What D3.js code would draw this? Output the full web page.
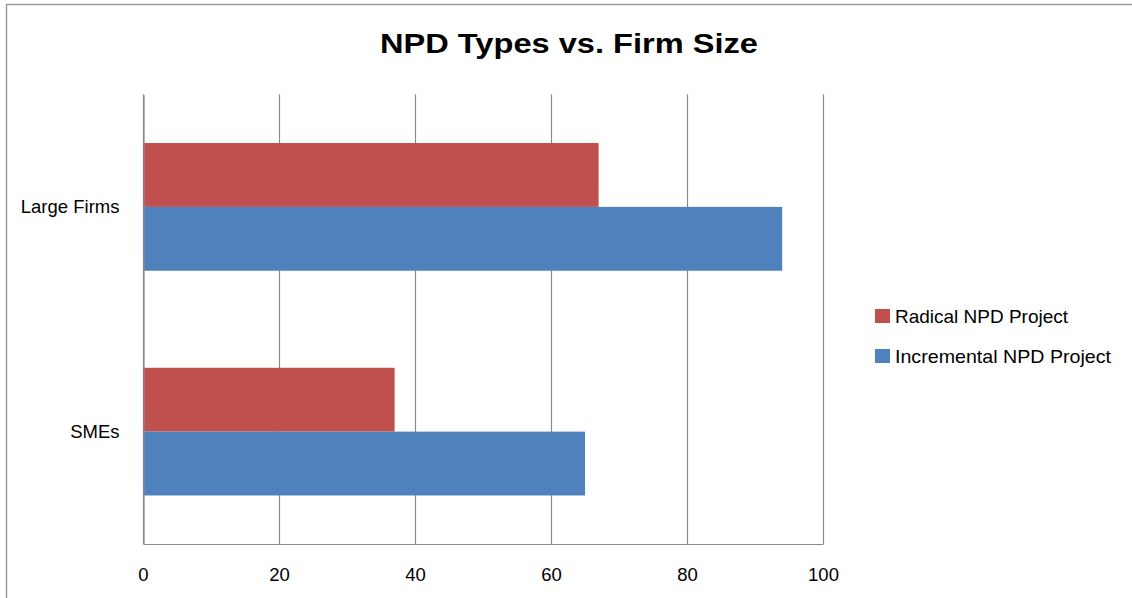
<!DOCTYPE html>
<html>
<head>
<meta charset="utf-8">
<script src="https://cdn.jsdelivr.net/npm/d3@7"></script>
<style>
  html, body { margin: 0; padding: 0; background: #fff; }
  svg { display: block; }
  text { font-family: "Liberation Sans", Arial, sans-serif; fill: #000; }
</style>
</head>
<body>
<svg id="chart" width="1132" height="598"></svg>
<script>
// Chart data
const categories = ["Large Firms", "SMEs"];
const seriesNames = ["Radical NPD Project", "Incremental NPD Project"];
const radicalValues = [67, 37];
const incrementalValues = [94, 65];
const xTicks = [0, 20, 40, 60, 80, 100];
const seriesColors = ["#C0504D", "#4F81BD"];

const seriesValues = [radicalValues, incrementalValues];
const rows = categories.map((c, i) => ({
  category: c,
  values: seriesNames.map((s, j) => ({ series: s, value: seriesValues[j][i], color: seriesColors[j] }))
}));

const svg = d3.select("#chart");
const W = 1132, H = 598;
const plot = { left: 143, right: 823, top: 94.5, bottom: 544 };
const gridColor = "#8a8a8a";

// Chart area border (runs past the right and bottom edges)
svg.append("rect")
  .attr("x", 6.5).attr("y", 4.5)
  .attr("width", W + 20).attr("height", H + 20)
  .attr("fill", "#fff")
  .attr("stroke", "#9a9a9a")
  .attr("stroke-width", 1.5);

// Title
svg.append("text")
  .attr("x", 569).attr("y", 53)
  .attr("text-anchor", "middle")
  .attr("font-size", 28)
  .attr("font-weight", "bold")
  .attr("textLength", 378)
  .attr("lengthAdjust", "spacingAndGlyphs")
  .text("NPD Types vs. Firm Size");

// Scales
const x = d3.scaleLinear().domain([0, 100]).range([plot.left, plot.right]);
const y0 = d3.scaleBand().domain(categories).range([plot.top, plot.bottom]).padding(0);
const y1 = d3.scaleBand().domain(seriesNames).range([0, y0.bandwidth()])
  .paddingInner(0).paddingOuter(0.76);

// Vertical gridlines
svg.append("g")
  .selectAll("line")
  .data(xTicks)
  .join("line")
  .attr("x1", d => Math.round(x(d)) + 0.5)
  .attr("x2", d => Math.round(x(d)) + 0.5)
  .attr("y1", plot.top)
  .attr("y2", plot.bottom)
  .attr("stroke", gridColor)
  .attr("stroke-width", 1.2);

// Bars
const groups = svg.append("g")
  .selectAll("g")
  .data(rows)
  .join("g")
  .attr("transform", d => `translate(0,${y0(d.category)})`);

groups.selectAll("rect")
  .data(d => d.values)
  .join("rect")
  .attr("x", x(0))
  .attr("y", d => y1(d.series))
  .attr("width", d => x(d.value) - x(0))
  .attr("height", y1.bandwidth())
  .attr("fill", d => d.color);

// Bottom axis
const xAxis = d3.axisBottom(x).tickValues(xTicks).tickSize(0).tickPadding(24);
const gx = svg.append("g")
  .attr("transform", `translate(0,${plot.bottom})`)
  .call(xAxis);
gx.select(".domain").attr("stroke", gridColor).attr("stroke-width", 1.2);
gx.selectAll("text").attr("font-size", 18.5).attr("font-family", "Liberation Sans, Arial, sans-serif").attr("fill", "#000");

// Left axis
const yAxis = d3.axisLeft(y0).tickSize(0).tickPadding(24);
const gy = svg.append("g")
  .attr("transform", `translate(${plot.left + 0.5},0)`)
  .call(yAxis);
gy.select(".domain").attr("stroke", gridColor).attr("stroke-width", 1.2);
gy.selectAll("text").attr("font-size", 18.5).attr("font-family", "Liberation Sans, Arial, sans-serif").attr("fill", "#000");

// Legend
const legendTextWidth = { "Radical NPD Project": 173, "Incremental NPD Project": 216 };
const legend = svg.append("g")
  .selectAll("g")
  .data(seriesNames)
  .join("g")
  .attr("transform", (d, i) => `translate(875,${309 + i * 40})`);

legend.append("rect")
  .attr("width", 15).attr("height", 14)
  .attr("fill", (d, i) => seriesColors[i]);

legend.append("text")
  .attr("x", 20).attr("y", 14)
  .attr("font-size", 18.5)
  .attr("textLength", d => legendTextWidth[d])
  .attr("lengthAdjust", "spacingAndGlyphs")
  .text(d => d);
</script>
</body>
</html>
